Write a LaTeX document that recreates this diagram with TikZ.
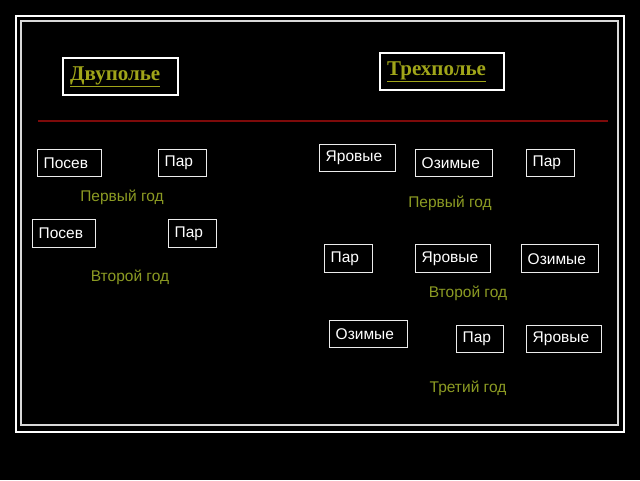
\documentclass[tikz,border=0pt]{standalone}
\usepackage{fontspec}
\setmainfont{Liberation Sans}
\newfontfamily\zagfont{Liberation Serif}
\definecolor{olivka}{RGB}{160,165,25}
\definecolor{godcol}{RGB}{140,155,35}
\definecolor{krasnyj}{RGB}{125,10,10}

\tikzset{
  kletka/.style = {draw=white!85!gray, line width=1.4pt, text=white, anchor=north west,
    align=left, inner xsep=6pt, inner ysep=0pt, minimum height=27pt,
    font=\fontsize{15.5}{16}\selectfont},% kletka polya
  god_lbl/.style = {text=godcol, font=\fontsize{15.5}{16}\selectfont},% podpis goda
  zag_box/.style = {draw=white, line width=2.4pt, anchor=north west, align=left,
    text=olivka, inner xsep=7pt, inner ysep=0pt, minimum height=37pt,
    font=\zagfont\bfseries\fontsize{21}{23}\selectfont}% zagolovok
}

\begin{document}
\begin{tikzpicture}[x=1pt, y=-1pt]
    \fill[black] (0,0) rectangle (640,480);
    \useasboundingbox (0,0) rectangle (640,480);
    \draw[white, line width=2.6pt] (16,16) rectangle (624,432);
    \draw[white!70!gray, line width=1.5pt] (21,21) rectangle (618,425);

    % zagolovki
    \node[zag_box, text width=101pt] (dvupole) at (62,57) {\underline{Двуполье}};
    \node[zag_box, text width=110pt] (trehpole) at (379,52) {\underline{Трехполье}};

    \coordinate (lin_l) at (38,121);
    \coordinate (lin_r) at (608,121);
    \draw[krasnyj, line width=1.5pt] (lin_l) -- (lin_r);

    % dvupole
    \node[kletka, text width=52pt] (posev_1) at (37,149) {Посев};
    \node[kletka, text width=36pt] (par_1) at (158,149) {Пар};
    \node[god_lbl] (god_1) at (122,197) {Первый год};
    \node[kletka, text width=51pt, minimum height=28pt] (posev_2) at (32,219) {Посев};
    \node[kletka, text width=36pt, minimum height=28pt] (par_2) at (168,219) {Пар};
    \node[god_lbl] (god_2) at (130,277) {Второй год};

    % trehpole
    \node[kletka, text width=64pt] (jar_1) at (319,144) {Яровые};
    \node[kletka, text width=65pt] (ozim_1) at (415,149) {Озимые};
    \node[kletka, text width=36pt] (par_3) at (526,149) {Пар};
    \node[god_lbl] (god_3) at (450,203) {Первый год};

    \node[kletka, text width=36pt, minimum height=28pt] (par_4) at (324,244) {Пар};
    \node[kletka, text width=63pt, minimum height=28pt] (jar_2) at (415,244) {Яровые};
    \node[kletka, text width=65pt, minimum height=28pt] (ozim_2) at (521,244) {Озимые};
    \node[god_lbl] (god_4) at (468,293) {Второй год};

    \node[kletka, text width=66pt] (ozim_3) at (329,320) {Озимые};
    \node[kletka, text width=35pt] (par_5) at (456,325) {Пар};
    \node[kletka, text width=63pt] (jar_3) at (526,325) {Яровые};
    \node[god_lbl] (god_5) at (468,388) {Третий год};
\end{tikzpicture}
\end{document}
